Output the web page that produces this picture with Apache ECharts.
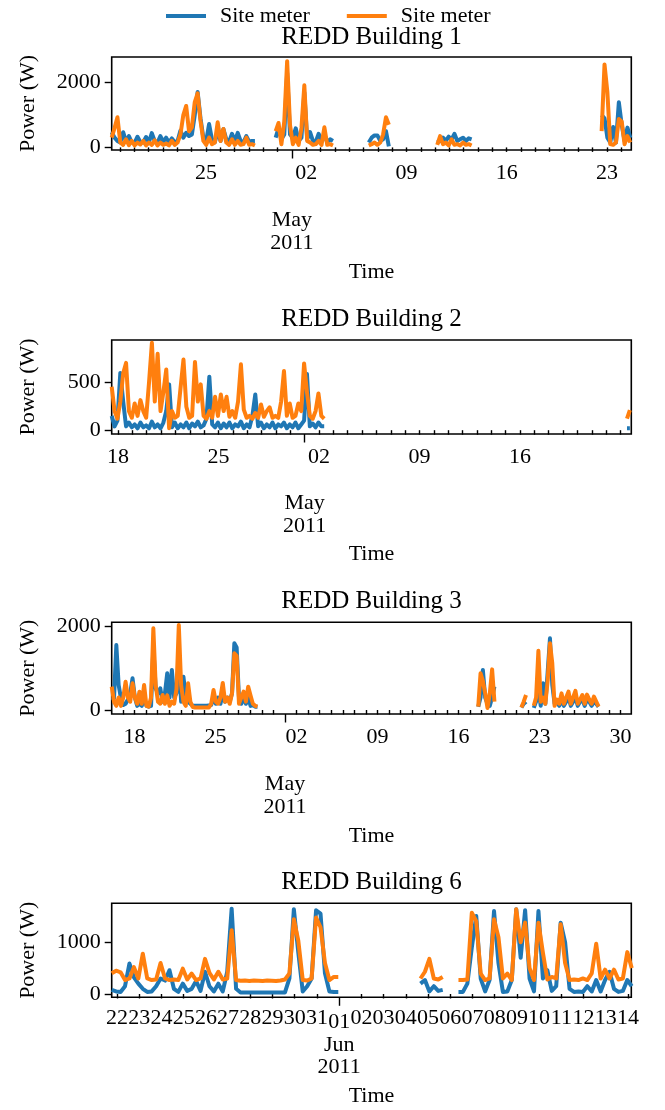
<!DOCTYPE html>
<html><head><meta charset="utf-8">
<script src="https://cdn.jsdelivr.net/npm/echarts@6/dist/echarts.min.js"></script>
<style>html,body{margin:0;padding:0;background:#fff}#c{width:665px;height:1110px}</style>
</head><body><div id="c"></div><script>
// x values are days counted from 2011-04-01 (day 0); samples every STEP days inside each segment
const STEP = 0.2;

// ---- REDD Building 1 ----
const b1Starts = [17.42, 28.87, 35.37, 40.15, 51.63];
const b1Blue = [
  [470,300,200,150,470,180,350,160,140,330,170,150,320,160,440,200,150,350,170,300,150,280,160,200,520,300,450,350,400,1000,1710,900,300,200,720,250,160,500,200,570,250,180,420,200,450,200,160,350,180,200,200],
  [300,600,250,400,2300,400,300,590,200,300,1700,250,470,200,180,420,180,400,160,250,200],
  [150,300,370,370,200,250,500,30],
  [150,200,300,200,330,250,420,200,250,300,200,280,250],
  [1000,900,300,150,630,150,1390,700,200,610,300]
];
const b1Orange = [
  [300,600,930,150,80,250,70,200,60,150,90,200,60,150,80,220,60,150,80,120,60,200,80,150,400,1000,1280,500,620,1400,1670,825,200,80,300,100,150,775,200,570,150,80,250,80,200,80,100,300,80,100,60],
  [500,755,100,800,2660,690,100,300,80,600,1915,200,150,80,100,200,80,620,80,100,60],
  [60,100,150,80,150,400,930,700],
  [80,350,100,150,60,250,80,100,60,150,80,100,60],
  [500,2560,1700,100,80,150,875,800,100,350,150]
];
const b1LabelDays = [24, 31, 38, 45, 52];
const b1Labels = ['25', '02', '09', '16', '23'];
const b1YTicks = [0, 2000];

// ---- REDD Building 2 ----
const b2Starts = [16.56, 52.45];
const b2Blue = [
  [150,40,100,600,300,40,80,30,60,20,80,30,50,20,90,30,60,20,80,200,480,30,80,20,60,30,80,20,70,40,90,30,50,120,560,60,30,80,20,70,30,80,20,60,40,90,20,60,30,150,375,40,80,20,60,30,80,20,60,40,80,20,60,30,80,20,60,100,590,40,70,30,80,40,40],
  [20,20]
];
const b2Orange = [
  [455,200,120,300,595,705,200,130,280,150,315,200,130,500,915,300,800,200,400,635,20,200,130,150,450,740,245,130,150,715,300,480,150,120,200,130,350,150,375,200,350,140,200,130,300,690,215,130,150,120,180,130,270,140,200,240,130,150,130,300,620,150,280,130,150,280,200,700,400,150,120,200,385,150,120],
  [120,210]
];
const b2LabelDays = [17, 24, 31, 38, 45];
const b2Labels = ['18', '25', '02', '09', '16'];
const b2YTicks = [0, 500];

// ---- REDD Building 3 ----
const b3Starts = [15.02, 46.7, 50.43, 51.5];
const b3Blue = [
  [300,280,1560,600,280,120,150,250,400,760,300,100,150,100,300,100,80,100,1500,520,400,520,200,400,880,300,960,300,400,1200,200,800,300,200,150,100,100,100,100,100,100,100,110,120,300,150,300,150,400,200,300,200,400,1600,1500,300,150,300,150,300,100,120,80,80],
  [80,300,960,300,150,100,300,560],
  [60,150,200],
  [50,200,500,100,640,150,900,1720,600,150,200,100,250,100,200,300,100,200,300,100,200,250,100,250,200,100,200,150,80]
];
const b3Orange = [
  [560,200,100,300,100,300,680,300,200,640,300,150,440,150,600,100,80,300,1960,600,200,150,360,150,350,100,200,150,500,2040,600,200,100,640,200,70,60,60,60,60,60,60,60,150,480,200,150,300,650,200,300,150,400,1360,1300,150,300,440,200,560,350,150,100,80],
  [80,880,700,400,50,400,975,200],
  [60,200,360],
  [100,300,1420,200,300,150,700,1600,1120,100,250,150,400,150,300,440,150,300,460,150,250,360,150,370,250,150,320,200,80]
];
const b3LabelDays = [17, 24, 31, 38, 45, 52, 59];
const b3Labels = ['18', '25', '02', '09', '16', '23', '30'];
const b3YTicks = [0, 2000];

// ---- REDD Building 6 ----
const b6Starts = [50.76, 64.66, 66.37];
const b6Blue = [
  [80,50,40,150,590,320,200,100,40,50,150,300,260,460,100,40,200,60,100,250,60,430,150,50,200,50,430,1650,100,30,30,30,30,30,30,30,30,30,30,30,300,1640,800,50,150,300,1620,1555,400,50,40,40],
  [200,270,50,150,60,80],
  [40,40,200,900,1510,300,50,270,1605,600,40,50,270,1640,700,1620,300,50,1605,300,460,60,150,1380,1000,100,40,50,40,150,50,270,50,270,430,100,40,60,270,150]
];
const b6Orange = [
  [400,450,420,270,300,520,300,780,300,270,280,600,300,270,280,270,490,280,395,270,300,680,410,280,430,280,300,1235,270,255,260,250,260,255,250,260,255,250,260,280,400,1445,1030,270,260,300,1480,1290,600,270,330,330],
  [300,430,680,300,280,330],
  [270,270,280,1570,1410,395,270,300,1445,1100,300,395,270,1640,1000,1380,500,270,1380,800,280,330,300,1350,600,270,280,270,300,270,400,970,300,470,300,470,280,300,810,500]
];
const b6LabelDays = [51,52,53,54,55,56,57,58,59,60,62,63,64,65,66,67,68,69,70,71,72,73,74];
const b6Labels = ['22','23','24','25','26','27','28','29','30','31','02','03','04','05','06','07','08','09','10','11','12','13','14'];
const b6YTicks = [0, 1000];

const seriesNames = ['Site meter', 'Site meter\u200b'];

// ---- layout / style ----
const FONT = 'Liberation Serif';
const BLUE = '#1f77b4', ORANGE = '#ff7f0e';
const panels = [
  {title:'REDD Building 1', titleTop:25, top:57, height:93, xr:[17.42,53.7], yr:[-80,2790], starts:b1Starts, blue:b1Blue, orange:b1Orange, ld:b1LabelDays, lb:b1Labels, yt:b1YTicks, month:30, monthLabel:'May\n2011', monthMargin:59, minorMargin:12, nameGap:111},
  {title:'REDD Building 2', titleTop:307, top:340, height:94, xr:[16.56,52.75], yr:[-40,945], starts:b2Starts, blue:b2Blue, orange:b2Orange, ld:b2LabelDays, lb:b2Labels, yt:b2YTicks, month:30, monthLabel:'May\n2011', monthMargin:58, minorMargin:12, nameGap:109},
  {title:'REDD Building 3', titleTop:589, top:622.3, height:91.7, xr:[15.02,59.93], yr:[-96,2105], starts:b3Starts, blue:b3Blue, orange:b3Orange, ld:b3LabelDays, lb:b3Labels, yt:b3YTicks, month:30, monthLabel:'May\n2011', monthMargin:59, minorMargin:12, nameGap:111},
  {title:'REDD Building 6', titleTop:870, top:903.3, height:94, xr:[50.76,74.15], yr:[-64,1754], starts:b6Starts, blue:b6Blue, orange:b6Orange, ld:b6LabelDays, lb:b6Labels, yt:b6YTicks, month:61, monthLabel:'01\nJun\n2011', monthMargin:14, minorMargin:10, nameGap:88}
];

function toData(starts, segs) {
  const out = [];
  segs.forEach((vals, k) => {
    if (k > 0) out.push([starts[k] - STEP / 2, '-']);
    vals.forEach((v, i) => out.push([+(starts[k] + i * STEP).toFixed(3), v]));
  });
  return out;
}

const txt = {fontFamily: FONT, fontSize: 22, color: '#000'};
const tickStyle = {color: '#000', width: 1.4};
const grid = [], xAxis = [], yAxis = [], series = [], title = [];
panels.forEach((p, g) => {
  grid.push({left: 111.7, right: 33.7, top: p.top, height: p.height, show: true, borderColor: '#000', borderWidth: 1.6, backgroundColor: 'transparent'});
  title.push({text: p.title, left: 371.5, top: p.titleTop, textAlign: 'center', padding: 0,
    textStyle: {fontFamily: FONT, fontSize: 25, fontWeight: 'normal', color: '#000'}});
  const days = [];
  for (let d = Math.ceil(p.xr[0]); d <= Math.floor(p.xr[1]); d++) if (d !== p.month) days.push(d);
  xAxis.push({type: 'value', gridIndex: g, position: 'bottom', min: p.xr[0], max: p.xr[1],
    axisLine: {show: false}, splitLine: {show: false},
    axisTick: {show: true, customValues: days, length: 4.5, lineStyle: tickStyle},
    axisLabel: {customValues: p.ld, formatter: v => p.lb[p.ld.indexOf(Math.round(v))], margin: p.minorMargin, ...txt},
    name: 'Time', nameLocation: 'middle', nameGap: p.nameGap, nameTextStyle: txt});
  xAxis.push({type: 'value', gridIndex: g, position: 'bottom', min: p.xr[0], max: p.xr[1],
    axisLine: {show: false}, splitLine: {show: false},
    axisTick: {show: true, customValues: [p.month], length: 8.5, lineStyle: tickStyle},
    axisLabel: {customValues: [p.month], formatter: () => p.monthLabel, margin: p.monthMargin, lineHeight: 22.5, ...txt}});
  yAxis.push({type: 'value', gridIndex: g, min: p.yr[0], max: p.yr[1],
    axisLine: {show: false}, splitLine: {show: false},
    axisTick: {show: true, customValues: p.yt, length: 7, lineStyle: tickStyle},
    axisLabel: {customValues: p.yt, formatter: v => String(Math.round(v)), margin: 11, ...txt},
    name: 'Power (W)', nameLocation: 'middle', nameGap: 72, nameTextStyle: txt});
  [[p.blue, BLUE, seriesNames[0]], [p.orange, ORANGE, seriesNames[1]]].forEach(([segs, col, nm]) => {
    series.push({type: 'line', name: nm, xAxisIndex: 2 * g, yAxisIndex: g, data: toData(p.starts, segs),
      showSymbol: false, symbol: 'none', connectNulls: false, silent: true,
      lineStyle: {color: col, width: 4, join: 'round'}, itemStyle: {color: col},
      emphasis: {disabled: true}});
  });
});

const chart = echarts.init(document.getElementById('c'), null, {renderer: 'canvas'});
chart.setOption({
  animation: false,
  backgroundColor: '#fff',
  title,
  legend: {left: 161, top: 0, icon: 'rect', itemWidth: 40, itemHeight: 4, itemGap: 37,
    data: seriesNames, textStyle: {...txt, padding: [0, 0, 0, 9]}},
  grid, xAxis, yAxis, series
});
</script></body></html>
